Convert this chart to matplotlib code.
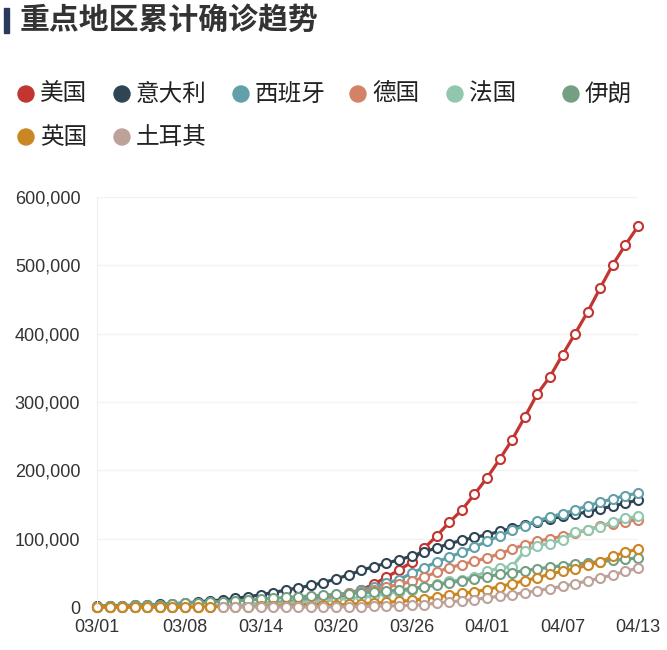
import numpy as np
import pandas as pd
import matplotlib
matplotlib.use('Agg')
import matplotlib.pyplot as plt
from matplotlib.patches import Rectangle, Circle
from matplotlib.ticker import FuncFormatter

plt.rcParams['font.family'] = ['Liberation Sans', 'Noto Sans CJK SC']

# 03/01 .. 04/13
dates = list(pd.date_range('2020-03-01', '2020-04-13').strftime('%m/%d'))
tick_idx = [0, 7, 13, 19, 25, 31, 37, 43]

names = ['美国', '意大利', '西班牙', '德国', '法国', '伊朗', '英国', '土耳其']
colors = ['#c23531', '#2f4554', '#61a0a8', '#d48265', '#91c7ae', '#749f83', '#ca8622', '#bda29a']

us = [68, 75, 100, 124, 158, 221, 319, 435, 541, 704, 994, 1301, 1630, 2183, 2770,
      3613, 4596, 6344, 7788, 13677, 19100, 25489, 33276, 43847, 53740, 65778, 86000,
      104000, 124000, 142000, 165000, 189000, 216000, 245000, 278000, 312000, 337000,
      369000, 400000, 432000, 467000, 501000, 530000, 557000]
italy = [1128, 1694, 2036, 2502, 3089, 3858, 4636, 5883, 7375, 9172, 10149, 12462, 15113,
         17660, 21157, 24747, 27980, 31506, 35713, 41035, 47021, 53578, 59138, 63927, 69176,
         74386, 80589, 86498, 92472, 97689, 101739, 105792, 110574, 115242, 119827, 124632,
         128948, 132547, 135586, 139422, 143626, 147577, 152271, 156363]
spain = [45, 84, 120, 165, 222, 259, 400, 500, 673, 1073, 1695, 2277, 3146, 5232, 6391,
         7798, 9942, 11748, 13910, 17963, 20410, 25374, 28768, 35136, 39885, 49515, 57786,
         65719, 73235, 80110, 87956, 95923, 104118, 112065, 119199, 126168, 131646, 136675,
         141942, 148220, 153222, 158273, 163027, 166831]
germany = [79, 130, 159, 196, 262, 482, 670, 799, 1040, 1176, 1457, 1908, 2078, 3675, 4585,
           5795, 7272, 9257, 12327, 15320, 19848, 22213, 24873, 29056, 32986, 37323, 43938,
           50871, 57695, 62095, 66885, 71808, 77872, 84794, 91159, 96092, 100123, 103374,
           107663, 113296, 118181, 122171, 124908, 127854]
france = [100, 130, 191, 204, 288, 380, 656, 957, 1136, 1219, 1794, 2293, 2293, 3661, 4469,
          4499, 6633, 7652, 9043, 10871, 12612, 14282, 16018, 19856, 22304, 25233, 29155,
          32964, 37575, 40174, 44550, 52128, 56989, 59105, 82165, 89953, 92839, 98010,
          109069, 112950, 117749, 124869, 129654, 132591]
iran = [593, 978, 1501, 2336, 2922, 3513, 4747, 5823, 6566, 7161, 8042, 9000, 10075, 11364,
        12729, 13938, 14991, 16169, 17361, 18407, 19644, 20610, 21638, 23049, 24811, 27017,
        29406, 32332, 35408, 38309, 41495, 44605, 47593, 50468, 53183, 55743, 58226, 60500,
        62589, 64586, 66220, 68192, 70029, 71686]
uk = [23, 36, 40, 51, 86, 116, 164, 207, 274, 322, 384, 459, 596, 801, 1143, 1144, 1551,
      1960, 2642, 2716, 4014, 5067, 5745, 6726, 8164, 9640, 11812, 14745, 17312, 19780,
      22453, 25481, 29865, 34173, 38689, 42477, 48436, 52279, 55949, 61474, 65872, 74605,
      79874, 85206]
turkey = [np.nan] * 10 + [1, 1, 1, 5, 5, 6, 18, 47, 98, 192, 359, 670, 1236, 1529, 1872,
                          2433, 3629, 5698, 7402, 9217, 10827, 13531, 15679, 18135, 20921,
                          23934, 27069, 30217, 34109, 38226, 42282, 47029, 52167, 56956]

series = [us, italy, spain, germany, france, iran, uk, turkey]

fig = plt.figure(figsize=(6.67, 6.5), dpi=100)
W, H = 667, 650
ax = fig.add_axes([97 / W, 43 / H, 541 / W, 410 / H])

x = np.arange(len(dates))
for vals, c in zip(series, colors):
    ax.plot(x, vals, color=c, lw=2.3, marker='o', markersize=6.5,
            markerfacecolor='white', markeredgecolor=c, markeredgewidth=1.5,
            clip_on=False)

ax.set_xlim(0, len(dates) - 1)
ax.set_ylim(0, 600000)
ax.set_yticks(np.arange(0, 600001, 100000))
ax.yaxis.set_major_formatter(FuncFormatter(lambda v, p: f'{int(v):,}'))
ax.set_xticks(tick_idx)
ax.set_xticklabels([dates[i] for i in tick_idx])
ax.tick_params(axis='y', length=0, pad=12, labelsize=13, labelcolor='#333333')
ax.tick_params(axis='x', length=0, pad=9, labelsize=13, labelcolor='#333333')
ax.grid(axis='y', color='#f2f2f2', lw=1)
ax.set_axisbelow(True)
for s in ['top', 'right', 'bottom']:
    ax.spines[s].set_visible(False)
ax.spines['left'].set_color('#eeeeee')

# overlay in pixel coords for title and legend
ov = fig.add_axes([0, 0, 1, 1])
ov.set_xlim(0, W)
ov.set_ylim(H, 0)
ov.axis('off')
ov.patch.set_visible(False)

ov.add_patch(Rectangle((4, 8), 5, 25, color='#2b3a5c'))
ov.text(20, 20, '重点地区累计确诊趋势', fontsize=21.5, fontweight='bold', color='#333333',
        va='center', ha='left', family=['Noto Sans CJK SC'])

leg_pos = [(26, 94), (122, 94), (241, 94), (358, 94), (455, 94), (571, 94),
           (26, 137), (122, 137)]
for (lx, ly), name, c in zip(leg_pos, names, colors):
    ov.add_patch(Circle((lx, ly), 8, color=c))
    ov.text(lx + 14, ly, name, fontsize=17, color='#222222', va='center', ha='left',
            family=['Noto Sans CJK SC'])

fig.savefig('out.png', dpi=100, facecolor='white')
